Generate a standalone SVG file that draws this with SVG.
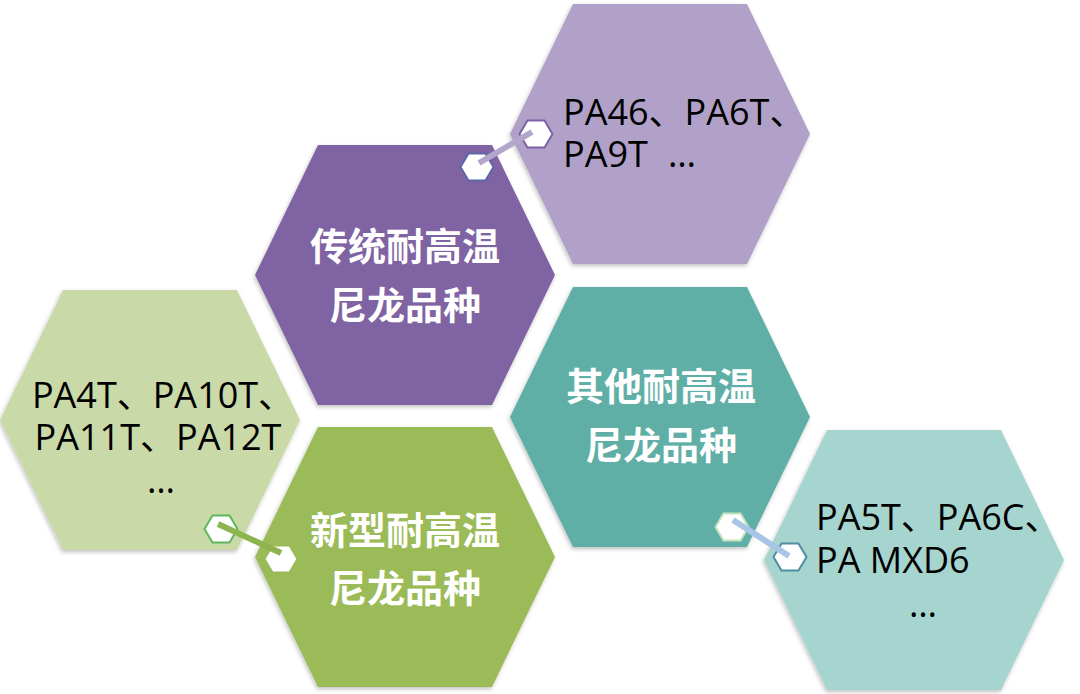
<svg xmlns="http://www.w3.org/2000/svg" width="1080" height="694" viewBox="0 0 1080 694">
<defs>
<style>
.hex{filter:url(#sh)}
.t{font-family:"Noto Sans CJK SC","Noto Sans",sans-serif;font-weight:700;font-size:38px;fill:#ffffff;text-anchor:middle}
.d{font-family:"Open Sans","Noto Sans CJK SC",sans-serif;font-size:36px;fill:#000000}
.c{stroke-width:6;stroke-linecap:butt;fill:none}
.sm{fill:#ffffff;stroke-width:2}
</style>
<filter id="sh" x="-10%" y="-10%" width="120%" height="120%">
<feDropShadow dx="-1" dy="2" stdDeviation="2" flood-color="#000" flood-opacity="0.25"/>
</filter>
<polygon id="H" points="-150,0 -87,-130 87,-130 150,0 87,130 -87,130"/>
<polygon id="S" points="-16.5,0 -8.5,-13.5 8.5,-13.5 16.5,0 8.5,13.5 -8.5,13.5"/>
</defs>
<rect width="1080" height="694" fill="#ffffff"/>

<g id="node-pa46">
<use href="#H" class="hex" x="660" y="134" fill="#B1A0C7"/>
<text class="d"><tspan x="563" y="125">PA46、PA6T、</tspan><tspan x="563" y="167">PA9T</tspan><tspan x="668" y="167">…</tspan></text>
</g>

<g id="node-traditional">
<use href="#H" class="hex" x="405" y="275" fill="#8064A2"/>
<text class="t"><tspan x="405" y="260">传统耐高温</tspan><tspan x="405" y="319">尼龙品种</tspan></text>
</g>

<g id="node-pa4t">
<use href="#H" class="hex" x="150" y="420" fill="#C9D9A7"/>
<text class="d" text-anchor="middle"><tspan x="163" y="408">PA4T、PA10T、</tspan><tspan x="158" y="450">PA11T、PA12T</tspan><tspan x="161" y="493">…</tspan></text>
</g>

<g id="node-other">
<use href="#H" class="hex" x="660" y="417" fill="#5EAFA6"/>
<text class="t"><tspan x="661" y="400">其他耐高温</tspan><tspan x="661" y="459">尼龙品种</tspan></text>
</g>

<g id="node-new">
<use href="#H" class="hex" x="405" y="557" fill="#9BBB59"/>
<text class="t"><tspan x="405" y="544">新型耐高温</tspan><tspan x="405" y="602">尼龙品种</tspan></text>
</g>

<g id="node-pa5t">
<use href="#H" class="hex" x="914" y="560" fill="#A6D4CF"/>
<text class="d"><tspan x="816" y="530">PA5T、PA6C、</tspan><tspan x="816" y="573">PA MXD6</tspan><tspan x="923" y="617" text-anchor="middle">…</tspan></text>
</g>

<g id="connectors">
<use href="#S" class="sm" x="477" y="167" stroke="#5B67A6"/>
<use href="#S" class="sm" x="536" y="134" stroke="#7D63A6"/>
<line class="c" x1="479" y1="163" x2="532" y2="132" stroke="#B3A6CB"/>

<use href="#S" class="sm" x="221" y="529" stroke="#5DB85D"/>
<use href="#S" class="sm" x="281" y="559" stroke="#9BBB59"/>
<line class="c" x1="218" y1="524" x2="281" y2="553" stroke="#8DB44F"/>

<use href="#S" class="sm" x="732" y="527" stroke="#C4E3BC"/>
<use href="#S" class="sm" x="790" y="557" stroke="#4E8DA2"/>
<line class="c" x1="733" y1="520" x2="789" y2="556" stroke="#A8C4E6"/>
</g>
</svg>
